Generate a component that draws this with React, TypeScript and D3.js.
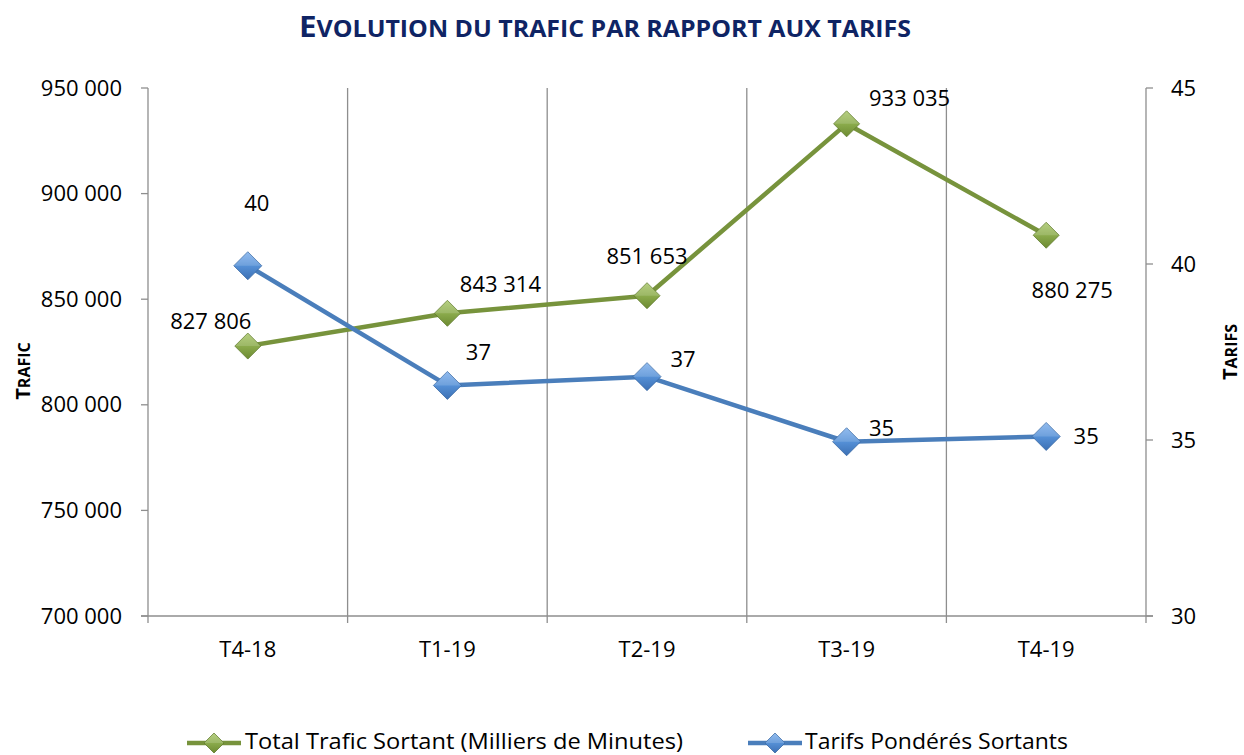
import React from "react";
import * as d3 from "d3";

const categories = ["T4-18", "T1-19", "T2-19", "T3-19", "T4-19"];
const traficValues = [827806, 843314, 851653, 933035, 880275];
const tarifValues = [39.95, 36.55, 36.8, 34.95, 35.1];
const tarifLabels = ["40", "37", "37", "35", "35"];
const leftTicks = [700000, 750000, 800000, 850000, 900000, 950000];
const rightTicks = [30, 35, 40, 45];
const traficName = "Total Trafic Sortant (Milliers de Minutes)";
const tarifName = "Tarifs Pondérés Sortants";

// label offsets (relative to point), in px
const traficLabelOffsets = [[-37, 8 - 25], [53, 8 - 29], [0, 8 - 40], [63, 8 - 26], [26, 8 + 55]];
const tarifLabelOffsets = [[9, 8 - 63], [31, 8 - 33], [36, 8 - 18], [35, 8 - 14], [40, 8]];

const W = 1244, H = 755;
const L = 148, R = 1146, T = 88, B = 616;
const FONT = "'Open Sans', sans-serif";
const NARROW = "'Open Sans', sans-serif";
const GREEN = "#77933c";
const BLUE = "#4a7ebb";
const GRID = "#8e8e8e";
const FS = 22;

const locale = d3.formatLocale({ thousands: " ", grouping: [3], decimal: ",", currency: ["", ""] });
const fmt = locale.format(",d");

function Diamond({ x, y, id, s = 13 }: { x: number; y: number; id: string; s?: number }) {
  const p = `M${x},${y - s}L${x + s},${y}L${x},${y + s}L${x - s},${y}Z`;
  return (
    <g>
      <path d={p} fill={`url(#${id})`} stroke={id === "gG" ? "#5f7a2c" : "#3a6aa5"} strokeWidth={0.8} />
      <path d={`M${x - s},${y}L${x},${y - s}L${x + s},${y}Z`} fill="#ffffff" opacity={0.15} />
    </g>
  );
}

export default function App() {
  const x = d3.scaleBand<string>().domain(categories).range([L, R]).padding(0);
  const yL = d3.scaleLinear().domain([700000, 950000]).range([B, T]);
  const yR = d3.scaleLinear().domain([30, 45]).range([B, T]);
  const cx = (c: string) => (x(c) as number) + x.bandwidth() / 2;

  const lineG = d3.line<number>().x((_, i) => cx(categories[i])).y((d) => yL(d));
  const lineB = d3.line<number>().x((_, i) => cx(categories[i])).y((d) => yR(d));
  const bounds = categories.slice(1).map((c) => x(c) as number);

  return (
    <svg width={W} height={H} style={{ display: "block", position: "absolute", left: 0, top: 0 }}>
      <defs>
        <linearGradient id="gG" x1="0" y1="0" x2="0" y2="1">
          <stop offset="0" stopColor="#a9c76a" />
          <stop offset="0.5" stopColor="#8bab4c" />
          <stop offset="1" stopColor="#6c8a31" />
        </linearGradient>
        <linearGradient id="gB" x1="0" y1="0" x2="0" y2="1">
          <stop offset="0" stopColor="#7fb0ec" />
          <stop offset="0.5" stopColor="#5590d6" />
          <stop offset="1" stopColor="#3c70b4" />
        </linearGradient>
      </defs>
      <rect width={W} height={H} fill="#fff" />
      {/* title */}
      <text x={299} y={37} textAnchor="start" fill="#0f2464" fontFamily={NARROW} fontWeight="bold" textLength={612} lengthAdjust="spacingAndGlyphs">
        <tspan fontSize={29}>E</tspan>
        <tspan fontSize={23}>VOLUTION DU TRAFIC PAR RAPPORT AUX TARIFS</tspan>
      </text>
      {/* gridlines */}
      {bounds.map((b, i) => (
        <line key={i} x1={b} x2={b} y1={T} y2={B + 7} stroke={GRID} strokeWidth={1.3} />
      ))}
      {/* axes */}
      <line x1={L} x2={L} y1={T} y2={B} stroke={GRID} strokeWidth={1.3} />
      <line x1={R} x2={R} y1={T} y2={B + 7} stroke={GRID} strokeWidth={1.3} />
      <line x1={L - 7} x2={R + 7} y1={B} y2={B} stroke={GRID} strokeWidth={1.3} />
      <line x1={L} x2={L} y1={B} y2={B + 7} stroke={GRID} strokeWidth={1.3} />
      {leftTicks.map((t) => (
        <g key={t}>
          <line x1={L - 7} x2={L} y1={yL(t)} y2={yL(t)} stroke={GRID} strokeWidth={1.3} />
          <text x={122} y={yL(t) + 7.5} textAnchor="end" fontFamily={FONT} fontSize={FS} fill="#000">{fmt(t)}</text>
        </g>
      ))}
      {rightTicks.map((t) => (
        <g key={t}>
          <line x1={R} x2={R + 7} y1={yR(t)} y2={yR(t)} stroke={GRID} strokeWidth={1.3} />
          <text x={1171} y={yR(t) + 7.5} textAnchor="start" fontFamily={FONT} fontSize={FS} fill="#000">{t}</text>
        </g>
      ))}
      {categories.map((c) => (
        <text key={c} x={cx(c)} y={657} textAnchor="middle" fontFamily={FONT} fontSize={FS} fill="#000">{c}</text>
      ))}
      {/* axis titles */}
      <text transform={`translate(30,371) rotate(-90)`} textAnchor="middle" fontFamily={NARROW} fontWeight="bold" fill="#000">
        <tspan fontSize={20}>T</tspan><tspan fontSize={16}>RAFIC</tspan>
      </text>
      <text transform={`translate(1237,352) rotate(-90)`} textAnchor="middle" fontFamily={NARROW} fontWeight="bold" fill="#000">
        <tspan fontSize={20}>T</tspan><tspan fontSize={16}>ARIFS</tspan>
      </text>
      {/* lines */}
      <path d={lineG(traficValues) as string} fill="none" stroke={GREEN} strokeWidth={4.5} strokeLinejoin="round" />
      <path d={lineB(tarifValues) as string} fill="none" stroke={BLUE} strokeWidth={4.5} strokeLinejoin="round" />
      {traficValues.map((v, i) => (
        <Diamond key={"g" + i} id="gG" x={cx(categories[i])} y={yL(v)} s={13} />
      ))}
      {tarifValues.map((v, i) => (
        <Diamond key={"b" + i} id="gB" x={cx(categories[i])} y={yR(v)} s={14} />
      ))}
      {/* data labels */}
      {traficValues.map((v, i) => (
        <text key={"gl" + i} x={cx(categories[i]) + traficLabelOffsets[i][0]} y={yL(v) + traficLabelOffsets[i][1]} textAnchor="middle" fontFamily={FONT} fontSize={FS} fill="#000">{fmt(v)}</text>
      ))}
      {tarifValues.map((v, i) => (
        <text key={"bl" + i} x={cx(categories[i]) + tarifLabelOffsets[i][0]} y={yR(v) + tarifLabelOffsets[i][1]} textAnchor="middle" fontFamily={FONT} fontSize={FS} fill="#000">{tarifLabels[i]}</text>
      ))}
      {/* legend */}
      <line x1={187} x2={241} y1={743} y2={743} stroke={GREEN} strokeWidth={4.5} />
      <Diamond id="gG" x={214} y={743} s={10} />
      <text x={245} y={749} fontFamily={NARROW} fontSize={21} fill="#000" textLength={438} lengthAdjust="spacingAndGlyphs">{traficName}</text>
      <line x1={748} x2={802} y1={743} y2={743} stroke={BLUE} strokeWidth={4.5} />
      <Diamond id="gB" x={775} y={743} s={10} />
      <text x={805} y={749} fontFamily={NARROW} fontSize={21} fill="#000" textLength={263} lengthAdjust="spacingAndGlyphs">{tarifName}</text>
    </svg>
  );
}
